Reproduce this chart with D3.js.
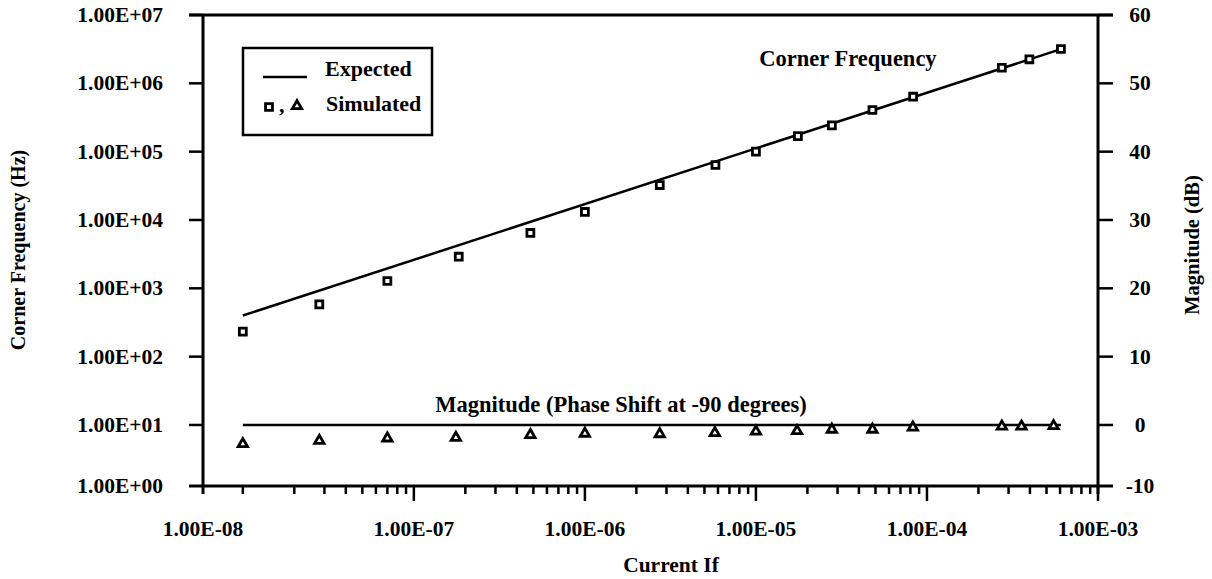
<!DOCTYPE html>
<html>
<head>
<meta charset="utf-8">
<script src="https://cdn.jsdelivr.net/npm/d3@7"></script>
<style>
  body{margin:0;background:#fff;}
  text{font-family:"Liberation Serif","Times New Roman",serif;font-weight:bold;fill:#000;}
</style>
</head>
<body>
<div id="chart"></div>
<script>
// simulated corner frequency (squares)
var simCornerX=[1.0e-8,2.8e-8,7.0e-8,1.83e-7,4.8e-7,1.0e-6,2.74e-6,5.8e-6,1.0e-5,1.76e-5,2.78e-5,4.8e-5,8.3e-5,2.74e-4,3.97e-4,6.07e-4];
var simCorner=[232,583,1280,2900,6460,13100,32500,63800,100000,169000,243000,407000,637000,1.69e6,2.25e6,3.18e6];
// expected corner frequency line
var expCornerX=[1.0e-8,6.07e-4];
var expCorner=[400,3.17e6];
// simulated magnitude (triangles), dB
var simMagX=[1.0e-8,2.8e-8,7.0e-8,1.76e-7,4.8e-7,1.0e-6,2.74e-6,5.75e-6,1.0e-5,1.74e-5,2.78e-5,4.8e-5,8.27e-5,2.74e-4,3.57e-4,5.5e-4];
var simMag=[-2.78,-2.3,-1.95,-1.86,-1.46,-1.25,-1.33,-1.16,-0.94,-0.88,-0.67,-0.67,-0.35,-0.2,-0.2,-0.15];
// expected magnitude line
var expMagX=[1.0e-8,6.07e-4];
var expMag=[0,0];

var xLabelValues=[1e-8,1e-7,1e-6,1e-5,1e-4,1e-3];
var yLabelValues=[1e0,1e1,1e2,1e3,1e4,1e5,1e6,1e7];
var magTicks=[-10,0,10,20,30,40,50,60];

var width=1212, height=579;
var pLeft=203, pRight=1098, pTop=15, pBottom=486;

var svg=d3.select('#chart').append('svg')
  .attr('width',width)
  .attr('height',height);

var x=d3.scaleLog().domain([5.85e-9,1e-3]).range([pLeft,pRight]);
var y=d3.scaleLog().domain([Math.pow(10,0.107),1e7]).range([pBottom,pTop]);
// right axis shares the left decades: 10 dB per decade, 0 dB on 1.00E+01
var yMag=d3.scaleLinear().domain([-8.93,60]).range([pBottom,pTop]);

function expLabel(v){
  var e=Math.round(Math.log10(v));
  var s=e<0?'-':'+';
  var a=Math.abs(e);
  return '1.00E'+s+(a<10?'0'+a:a);
}

// minor ticks on x
var minor=[];
for(var e=-8;e<-3;e++){
  for(var k=1;k<10;k++){
    var v=k*Math.pow(10,e);
    if(!(k==1 && e>-8)) minor.push(v);
  }
}
var major=[1e-7,1e-6,1e-5,1e-4,1e-3];

svg.append('g').selectAll('line')
  .data(minor).enter().append('line')
  .attr('x1',function(d){return x(d);})
  .attr('x2',function(d){return x(d);})
  .attr('y1',pBottom).attr('y2',pBottom+8)
  .attr('stroke','#000').attr('stroke-width',2.5);

svg.append('g').selectAll('line')
  .data(major).enter().append('line')
  .attr('x1',function(d){return x(d);})
  .attr('x2',function(d){return x(d);})
  .attr('y1',pBottom).attr('y2',pBottom+15)
  .attr('stroke','#000').attr('stroke-width',2.5);

// y ticks left
svg.append('g').selectAll('line')
  .data(yLabelValues.slice(1)).enter().append('line')
  .attr('x1',pLeft-14).attr('x2',pLeft)
  .attr('y1',function(d){return y(d);})
  .attr('y2',function(d){return y(d);})
  .attr('stroke','#000').attr('stroke-width',2.5);

// right ticks
svg.append('g').selectAll('line')
  .data(magTicks.slice(1)).enter().append('line')
  .attr('x1',pRight).attr('x2',pRight+15)
  .attr('y1',function(d){return yMag(d);})
  .attr('y2',function(d){return yMag(d);})
  .attr('stroke','#000').attr('stroke-width',2.5);

// frame
svg.append('line').attr('x1',pLeft-14).attr('x2',pRight+15).attr('y1',pBottom).attr('y2',pBottom)
  .attr('stroke','#000').attr('stroke-width',3);
svg.append('line').attr('x1',pLeft-14).attr('x2',pRight+15).attr('y1',pTop).attr('y2',pTop)
  .attr('stroke','#000').attr('stroke-width',3);
svg.append('line').attr('x1',pLeft).attr('x2',pLeft).attr('y1',pTop).attr('y2',pBottom+8)
  .attr('stroke','#000').attr('stroke-width',3);
svg.append('line').attr('x1',pRight).attr('x2',pRight).attr('y1',pTop).attr('y2',pBottom+8)
  .attr('stroke','#000').attr('stroke-width',3);

// tick labels
svg.append('g').selectAll('text')
  .data(xLabelValues).enter().append('text')
  .attr('x',function(d,i){return i==0?x.range()[0]:x(d);})
  .attr('y',536)
  .attr('text-anchor','middle')
  .style('font-size','21.5px')
  .text(expLabel);

svg.append('g').selectAll('text')
  .data(yLabelValues).enter().append('text')
  .attr('x',163)
  .attr('y',function(d,i){return (i==0?y.range()[0]:y(d))+7;})
  .attr('text-anchor','end')
  .style('font-size','21.5px')
  .text(expLabel);

svg.append('g').selectAll('text')
  .data(magTicks).enter().append('text')
  .attr('x',1140)
  .attr('y',function(d,i){return (i==0?yMag.range()[0]:yMag(d))+7;})
  .attr('text-anchor','middle')
  .style('font-size','21.5px')
  .text(function(d){return d;});

// axis titles
svg.append('text').attr('x',671).attr('y',572).attr('text-anchor','middle')
  .style('font-size','21.5px').text('Current If');
svg.append('text').attr('transform','translate(25,250) rotate(-90)').attr('text-anchor','middle')
  .style('font-size','20px').text('Corner Frequency (Hz)');
svg.append('text').attr('transform','translate(1199,245) rotate(-90)').attr('text-anchor','middle')
  .style('font-size','20.5px').text('Magnitude (dB)');

// expected lines
var cornerLine=d3.line().x(function(d){return x(d[0]);}).y(function(d){return y(d[1]);});
svg.append('path').datum(d3.zip(expCornerX,expCorner))
  .attr('d',cornerLine).attr('fill','none').attr('stroke','#000').attr('stroke-width',2.5);
var magLine=d3.line().x(function(d){return x(d[0]);}).y(function(d){return yMag(d[1]);});
svg.append('path').datum(d3.zip(expMagX,expMag))
  .attr('d',magLine).attr('fill','none').attr('stroke','#000').attr('stroke-width',2.5);

// markers
var sq=d3.symbol().type(d3.symbolSquare).size(48);
var tri=d3.symbol().type(d3.symbolTriangle).size(38);
svg.append('g').selectAll('path')
  .data(d3.zip(simCornerX,simCorner)).enter().append('path')
  .attr('d',sq)
  .attr('transform',function(d){return 'translate('+x(d[0])+','+y(d[1])+')';})
  .attr('fill','#fff').attr('stroke','#000').attr('stroke-width',2.8);
svg.append('g').selectAll('path')
  .data(d3.zip(simMagX,simMag)).enter().append('path')
  .attr('d',tri)
  .attr('transform',function(d){return 'translate('+x(d[0])+','+yMag(d[1])+')';})
  .attr('fill','#fff').attr('stroke','#000').attr('stroke-width',2.8);

// annotations
svg.append('text').attr('x',848).attr('y',66).attr('text-anchor','middle')
  .style('font-size','22.5px').text('Corner Frequency');
svg.append('text').attr('x',621).attr('y',412).attr('text-anchor','middle')
  .style('font-size','22.5px').text('Magnitude (Phase Shift at -90 degrees)');

// legend
var lg=svg.append('g');
lg.append('rect').attr('x',243).attr('y',48).attr('width',189).attr('height',87)
  .attr('fill','#fff').attr('stroke','#000').attr('stroke-width',2.5);
lg.append('line').attr('x1',263).attr('x2',307).attr('y1',77).attr('y2',77)
  .attr('stroke','#000').attr('stroke-width',2.5);
lg.append('text').attr('x',325).attr('y',76).style('font-size','22px').text('Expected');
lg.append('path').attr('d',sq).attr('transform','translate(269,107)')
  .attr('fill','#fff').attr('stroke','#000').attr('stroke-width',2.8);
lg.append('text').attr('x',279).attr('y',112).style('font-size','22px').text(',');
lg.append('path').attr('d',tri).attr('transform','translate(297,106)')
  .attr('fill','#fff').attr('stroke','#000').attr('stroke-width',2.8);
lg.append('text').attr('x',326).attr('y',111).style('font-size','22px').text('Simulated');
</script>
</body>
</html>
